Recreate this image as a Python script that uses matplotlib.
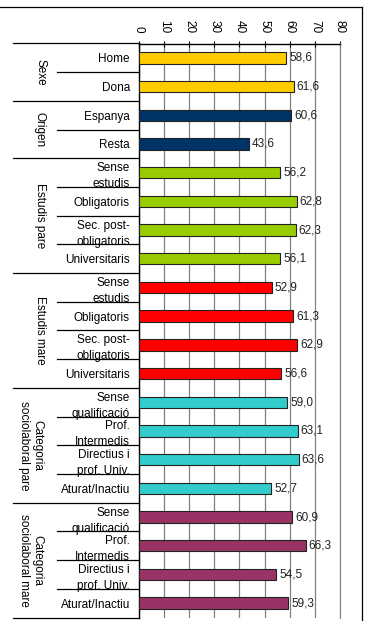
import matplotlib
matplotlib.use("Agg")
import matplotlib.pyplot as plt
import matplotlib.transforms as mtransforms
from matplotlib.lines import Line2D

plt.rcParams["font.family"] = ["Liberation Sans", "DejaVu Sans"]

# ── DATA ───────────────────────────────────────────────
groups = ["Sexe", "Origen", "Estudis pare", "Estudis mare",
          "Categoria\nsociolaboral pare", "Categoria\nsociolaboral mare"]
group_sizes = [2, 2, 4, 4, 4, 4]
group_colors = ["#FFCC00", "#003366", "#99CC00", "#FF0000", "#33CCCC", "#993366"]

categories = ["Home", "Dona",
              "Espanya", "Resta",
              "Sense\nestudis", "Obligatoris", "Sec. post-\nobligatoris", "Universitaris",
              "Sense\nestudis", "Obligatoris", "Sec. post-\nobligatoris", "Universitaris",
              "Sense\nqualificació", "Prof.\nIntermedis", "Directius i\nprof. Univ.", "Aturat/Inactiu",
              "Sense\nqualificació", "Prof.\nIntermedis", "Directius i\nprof. Univ.", "Aturat/Inactiu"]
values = [58.6, 61.6,
          60.6, 43.6,
          56.2, 62.8, 62.3, 56.1,
          52.9, 61.3, 62.9, 56.6,
          59.0, 63.1, 63.6, 52.7,
          60.9, 66.3, 54.5, 59.3]
xticks = [0, 10, 20, 30, 40, 50, 60, 70, 80]

bar_colors = [c for c, n in zip(group_colors, group_sizes) for _ in range(n)]

FS = 8.5

# ── FIGURE ─────────────────────────────────────────────
W, H = 369, 621
fig = plt.figure(figsize=(W / 100, H / 100), dpi=100)
ax = fig.add_axes([139 / W, 1 - 617.5 / H, (340 - 139) / W, (617.5 - 43.5) / H])

pos = list(range(len(categories)))
ax.barh(pos, values, height=0.4, color=bar_colors, edgecolor="#222222", linewidth=0.8, zorder=3)
ax.set_xlim(0, 80)
ax.set_ylim(len(categories) - 0.5, -0.5)

for p, v in zip(pos, values):
    ax.annotate(f"{v:.1f}".replace(".", ","), (v, p), xytext=(2.2, 0),
                textcoords="offset points", va="center", ha="left",
                fontsize=FS, color="#222222", zorder=4)

ax.xaxis.tick_top()
ax.set_xticks(xticks)
ax.set_xticklabels([str(t) for t in xticks], rotation=-90)
ax.tick_params(axis="x", direction="inout", length=5, width=0.8, pad=5,
               labelsize=FS, colors="black")
ax.xaxis.grid(True, color="#808080", linewidth=0.9, zorder=0)

ax.set_yticks(pos)
ax.set_yticklabels(categories, fontsize=FS, linespacing=1.45)
ax.tick_params(axis="y", length=0, pad=6.5)
for lbl in ax.get_yticklabels():
    lbl.set_ha("right")

ax.spines["bottom"].set_visible(False)
ax.spines["right"].set_color("#808080")
ax.spines["left"].set_linewidth(1.0)
ax.spines["top"].set_linewidth(1.0)

# ── LEFT SIDE: SEPARATORS AND GROUP LABELS ─────────────
tr = mtransforms.blended_transform_factory(fig.transFigure, ax.transData)
start = 0
bounds = [-0.5]
for g, n in zip(groups, group_sizes):
    end = start + n
    bounds.append(end - 0.5)
    for k in range(start + 1, end):
        fig.add_artist(Line2D([57 / W, 139 / W], [k - 0.5, k - 0.5], transform=tr,
                              color="black", linewidth=0.9))
    xc = 31 / W if "\n" in g else 40 / W
    fig.text(xc, (start + end - 1) / 2, g, transform=tr, rotation=-90,
             ha="center", va="center", fontsize=FS, linespacing=1.15)
    start = end
for b in bounds:
    fig.add_artist(Line2D([13 / W, 139 / W], [b, b], transform=tr,
                          color="black", linewidth=0.9))

# outer frame (top and right)
fig.add_artist(Line2D([0, 362 / W], [1 - 7 / H, 1 - 7 / H], color="black", linewidth=0.9))
fig.add_artist(Line2D([362 / W, 362 / W], [1 - 7 / H, 0], color="black", linewidth=0.9))

fig.savefig("out.png", dpi=100)
